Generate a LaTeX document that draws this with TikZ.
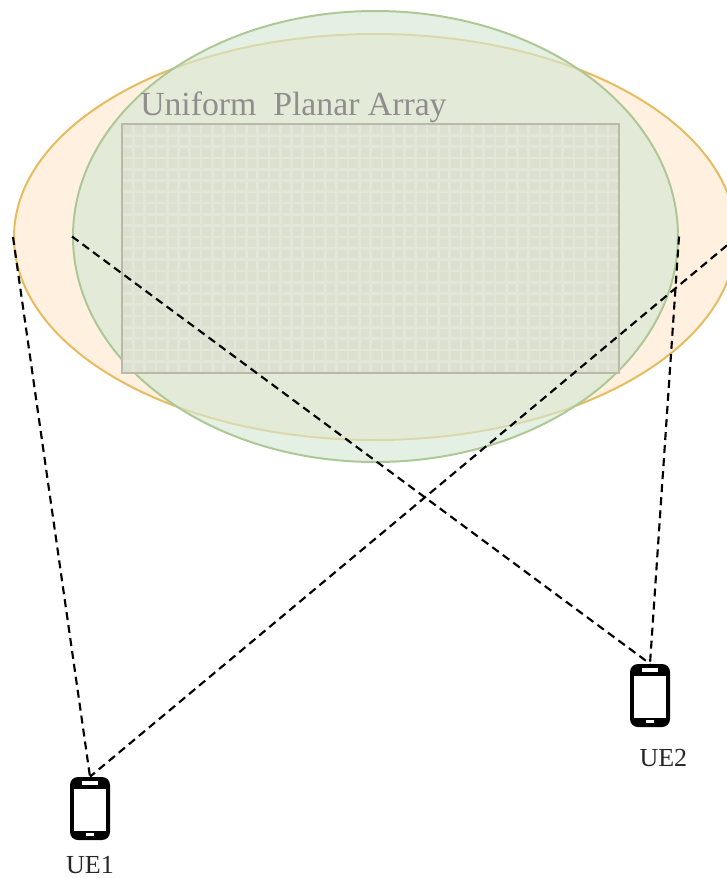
\documentclass[tikz,border=0pt]{standalone}
\usepackage{fontspec}
\setmainfont{Liberation Serif}
\usetikzlibrary{positioning,shapes.geometric}

\definecolor{orangefill}{HTML}{FFF0E0}
\definecolor{orangeline}{HTML}{E6BC60}
\definecolor{greenfill}{HTML}{D5E8D4}
\definecolor{greenline}{HTML}{ADC894}
\definecolor{cellfill}{HTML}{DCE0D0}
\definecolor{cellline}{HTML}{E2E5D7}
\definecolor{arrayline}{HTML}{B6BAA6}
\definecolor{titlegray}{HTML}{8E8E8E}

\begin{document}
\begin{tikzpicture}[x=0.75pt,y=-0.75pt,
  orange node/.style={ellipse,draw=orangeline,fill=orangefill,line width=1.5pt,inner sep=0pt,minimum width=541.5pt,minimum height=304.5pt},
  green node/.style={ellipse,draw=greenline,fill=greenfill,fill opacity=0.65,line width=1.5pt,inner sep=0pt,minimum width=453.75pt,minimum height=338.25pt},
  array node/.style={rectangle,fill=cellfill,inner sep=0pt,minimum width=372.75pt,minimum height=186.75pt},
  border node/.style={rectangle,draw=arrayline,line width=1.5pt,inner sep=0pt,minimum width=372.75pt,minimum height=186.75pt},
  phone node/.style={rectangle,rounded corners=6pt,fill=black,inner sep=0pt,minimum width=30pt,minimum height=47.25pt},
  screen node/.style={rectangle,fill=white,inner sep=0pt,minimum width=24.5pt,minimum height=31.5pt},
  speaker node/.style={rectangle,fill=white,inner sep=0pt,minimum width=12pt,minimum height=3.2pt},
  button node/.style={rectangle,fill=white,inner sep=0pt,minimum width=6pt,minimum height=2.6pt},
  ue label/.style={font=\fontsize{19.5}{22}\selectfont,text=black!85,inner sep=0pt},
  link/.style={dash pattern=on 6pt off 3.8pt,line width=1.6pt}]

  \useasboundingbox (0,0) rectangle (727,878);

  \node[orange node] (orange) at (375,237) {};
  \node[green node] (green) at (375.5,236.5) {};
  \node[array node] (array) at (370.5,248.5) {};

  \foreach \i in {1,...,43}
    \draw[cellline,line width=2pt] (122+\i*11.3,125) -- (122+\i*11.3,372);
  \foreach \j in {1,...,21}
    \draw[cellline,line width=2pt] (123,124+\j*11.3) -- (618,124+\j*11.3);
  \node[border node] (border) at (array) {};

  \node[anchor=base west,inner sep=0pt,text=titlegray,font=\fontsize{25.3}{30}\selectfont] (title) at (140,115) {Uniform\ \ Planar Array};

  \node[phone node] (ue1) at (90,808.5) {};
  \node[screen node] (ue1 screen) at (90,810) {};
  \node[speaker node] (ue1 speaker) at (90,783) {};
  \node[button node] (ue1 button) at (90,834.5) {};
  \node[ue label,below=12pt of ue1] (ue1 label) {UE1};

  \node[phone node] (ue2) at (650,695.5) {};
  \node[screen node] (ue2 screen) at (650,697) {};
  \node[speaker node] (ue2 speaker) at (650,670) {};
  \node[button node] (ue2 button) at (650,721.5) {};
  \node[ue label,below=16pt of ue2,xshift=10pt] (ue2 label) {UE2};

  \path[draw,link]
    (orange.west) -- (ue1.north)
    (orange.east) -- (ue1.north)
    (green.west) -- (ue2.north)
    (green.east) -- (ue2.north)
    ;

\end{tikzpicture}
\end{document}
